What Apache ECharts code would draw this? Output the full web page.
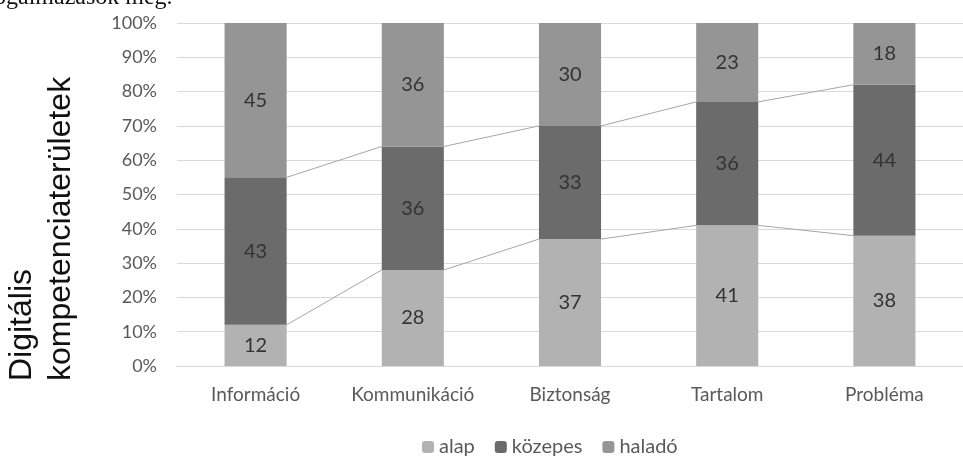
<!DOCTYPE html>
<html><head><meta charset="utf-8">
<script src="https://cdn.jsdelivr.net/npm/echarts@6/dist/echarts.min.js"></script>
<style>html,body{margin:0;padding:0;background:#fff}#c{width:963px;height:456px}</style>
</head><body><div id="c"></div>
<script>
var categories = ['Információ', 'Kommunikáció', 'Biztonság', 'Tartalom', 'Probléma'];
var alap = [12, 28, 37, 41, 38];
var kozepes = [43, 36, 33, 36, 44];
var halado = [45, 36, 30, 23, 18];
var yTicks = ['0%','10%','20%','30%','40%','50%','60%','70%','80%','90%','100%'];
var seriesNames = ['alap', 'közepes', 'haladó'];

var FONT = 'Lato, "Open Sans", sans-serif';
var BARW = 0.395;

// series lines data (Excel-style connectors between stacked tops)
var connData = [];
for (var i = 0; i < categories.length - 1; i++) {
  connData.push([i, alap[i], alap[i + 1]]);
  connData.push([i, alap[i] + kozepes[i], alap[i + 1] + kozepes[i + 1]]);
}

var chart = echarts.init(document.getElementById('c'), null, {renderer: 'canvas'});
var lbl = {show: true, position: 'inside', color: '#333333', fontSize: 20, fontFamily: FONT};
chart.setOption({
  animation: false,
  grid: {left: 177, width: 805, top: 23, bottom: 90},
  legend: {
    left: 417, top: 432, itemWidth: 12, itemHeight: 12, itemGap: 20,
    textStyle: {color: '#595959', fontSize: 20, fontFamily: FONT},
    data: seriesNames
  },
  xAxis: {
    type: 'category', data: categories,
    axisLine: {lineStyle: {color: '#d9d9d9'}},
    axisTick: {show: false},
    axisLabel: {color: '#595959', fontSize: 19, fontFamily: FONT, margin: 19, interval: 0}
  },
  yAxis: {
    type: 'value', min: 0, max: 100, interval: 10,
    axisLine: {show: false}, axisTick: {show: false},
    splitLine: {lineStyle: {color: '#d9d9d9', width: 1}},
    axisLabel: {color: '#595959', fontSize: 18, fontFamily: FONT, margin: 20,
      formatter: function (v) { return yTicks[Math.round(v / 10)]; }}
  },
  series: [
    {name: seriesNames[0], type: 'bar', stack: 's', data: alap, barWidth: (BARW * 100) + '%',
      itemStyle: {color: '#b2b2b2'}, label: lbl},
    {name: seriesNames[1], type: 'bar', stack: 's', data: kozepes, barWidth: (BARW * 100) + '%',
      itemStyle: {color: '#6b6b6b'}, label: lbl},
    {name: seriesNames[2], type: 'bar', stack: 's', data: halado, barWidth: (BARW * 100) + '%',
      itemStyle: {color: '#959595'}, label: lbl},
    {type: 'custom', silent: true, data: connData, z: 5,
      renderItem: function (params, api) {
        var i = api.value(0);
        var p1 = api.coord([i, api.value(1)]);
        var p2 = api.coord([i + 1, api.value(2)]);
        var hw = api.size([1, 0])[0] * BARW / 2;
        return {type: 'line', shape: {x1: p1[0] + hw, y1: p1[1], x2: p2[0] - hw, y2: p2[1]},
          style: {stroke: '#a6a6a6', lineWidth: 1}};
      }}
  ],
  graphic: [
    {type: 'text', left: -14, top: -14, style: {text: 'fogalmazások meg.', fill: '#111',
      font: '24px "Liberation Serif", serif'}},
    {type: 'text', x: 22, y: 381, rotation: Math.PI / 2, style: {text: 'Digitális', fill: '#111',
      font: '32px "Liberation Sans", Arial, sans-serif', textAlign: 'left', textVerticalAlign: 'middle'}},
    {type: 'text', x: 61, y: 381, rotation: Math.PI / 2, style: {text: 'kompetenciaterületek', fill: '#111',
      font: '32px "Liberation Sans", Arial, sans-serif', textAlign: 'left', textVerticalAlign: 'middle'}}
  ]
});
</script></body></html>
